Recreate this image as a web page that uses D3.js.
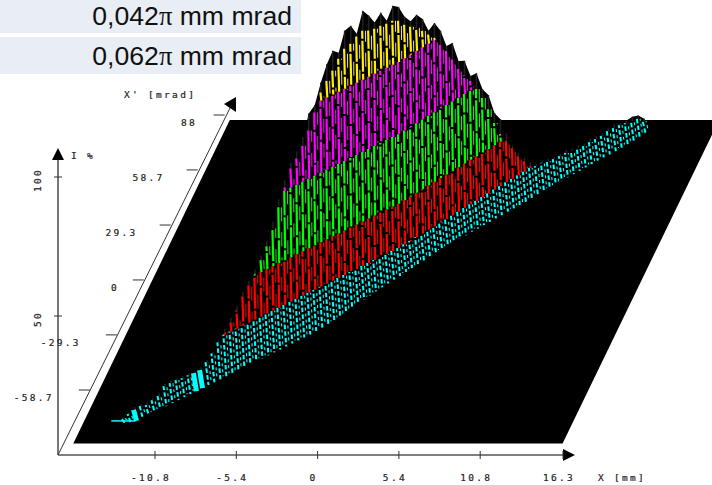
<!DOCTYPE html>
<html>
<head>
<meta charset="utf-8">
<script src="https://cdn.jsdelivr.net/npm/d3@7"></script>
<style>
  html, body { margin: 0; padding: 0; background: #fff; }
  .tick-label { font-family: "DejaVu Sans Mono", monospace; font-size: 9.5px; letter-spacing: 2.3px; fill: #222; stroke: #222; stroke-width: 0.2px; }
  .note { font-family: "Liberation Sans", Arial, sans-serif; font-size: 26.6px; fill: #111; }
  .note .pi { font-family: "Liberation Serif", serif; }
</style>
</head>
<body>
<div id="chart"></div>
<script>
// Axis ticks
const xTicks = [-10.8, -5.4, 0, 5.4, 10.8, 16.3];
const xpTicks = [-58.7, -29.3, 0, 29.3, 58.7, 88];
const iTicks = [50, 100];

// Emittance notes
const notes = ["0,042", "0,062"];

// Floor extent, mm and mrad
const floorX = [-16.6, 15.9];
const floorXp = [-87.2, 85.3];

// Intensity where the colour changes, %
const bandLimits = [15, 31, 56, 82];
const bandColors = ["#00ffff", "#ff0000", "#00ff00", "#ff00ff", "#ffee00"];

// One entry per scan line
const lineX = [-13.82, -13.52, -13.22, -12.91, -12.61, -12.31, -12.01, -11.71, -11.40, -11.10, -10.80, -10.50, -10.20, -9.89, -9.59, -9.29, -8.99, -8.69, -8.38, -8.08, -7.78, -7.48, -7.18, -6.87, -6.57, -6.27, -5.97, -5.67, -5.36, -5.06, -4.76, -4.46, -4.16, -3.85, -3.55, -3.25, -2.95, -2.65, -2.34, -2.04, -1.74, -1.44, -1.14, -0.83, -0.53, -0.23, 0.07, 0.35, 0.63, 0.91, 1.19, 1.47, 1.75, 2.03, 2.31, 2.59, 2.88, 3.16, 3.44, 3.72, 4.00, 4.28, 4.56, 4.84, 5.12, 5.40, 5.68, 5.96, 6.24, 6.51, 6.79, 7.06, 7.33, 7.60, 7.88, 8.15, 8.42, 8.70, 8.97, 9.24, 9.51, 9.79, 10.06, 10.33, 10.60, 10.88, 11.15, 11.42];
const lineXp = [-78.4, -76.8, -75.2, -73.6, -72.0, -70.5, -68.9, -67.3, -65.7, -64.1, -62.5, -60.9, -59.3, -57.7, -56.1, -54.6, -53.0, -51.4, -49.8, -48.2, -46.6, -45.0, -43.4, -41.8, -40.2, -38.6, -37.1, -35.5, -33.9, -32.3, -30.7, -29.1, -27.5, -25.9, -24.3, -22.7, -21.2, -19.6, -18.0, -16.4, -14.8, -13.2, -11.6, -10.0, -8.4, -6.8, -5.3, -3.3, -1.4, 0.6, 2.5, 4.5, 6.4, 8.4, 10.3, 12.2, 14.2, 16.1, 18.1, 20.0, 22.0, 23.9, 25.9, 27.8, 29.8, 31.7, 33.6, 35.6, 37.6, 39.7, 41.8, 43.8, 45.9, 48.0, 50.1, 52.2, 54.2, 56.3, 58.4, 60.5, 62.6, 64.6, 66.7, 68.8, 70.9, 73.0, 75.1, 77.1];
const lineLow = [1.5, 0.5, 0, 0, 0, 0, 0, 0, 0, 0, 0, 0, 0, 0, 0, 0, 0, 0, 0, 0, 0, 0, 0, 0, 0, 0, 0, 0, 0, 0, 0, 0, 0.2, 0.3, 0.5, 0.7, 1.1, 1.5, 1.9, 2.4, 2.9, 3.3, 3.7, 4.1, 4.4, 4.7, 5, 5.1, 5.2, 5.3, 5.4, 5.4, 5.4, 5.4, 5.4, 5.4, 5.3, 5.2, 5.2, 5, 4.9, 4.8, 4.7, 4.6, 4.5, 4.4, 4.3, 4.1, 4, 3.8, 3.7, 3.5, 3.4, 3.2, 3.1, 2.9, 2.7, 2.5, 2.3, 2.1, 1.9, 1.6, 1.4, 1.2, 1, 0.7, 0.6, 0.5];
const lineTop = [3, 3.6, 4, 4.3, 3.6, 4.3, 4.7, 7.2, 7.2, 7.2, 6.8, 6.8, 6.5, 6.5, 8.3, 10.4, 13.3, 15.5, 18.3, 21.6, 25.5, 28.4, 31.3, 35.3, 39.2, 44.6, 51.8, 57.2, 63, 65.5, 69, 73.4, 78.8, 84.9, 88, 90.6, 93.9, 96.4, 97.1, 98.6, 99.6, 98.6, 98.2, 98.2, 97.8, 97.8, 96.8, 94, 92, 90.3, 87.9, 85.2, 82.7, 78.9, 75.4, 71.2, 66.3, 62.8, 59.4, 55.2, 50.6, 45.3, 39, 33.7, 29.9, 26, 21.8, 18.7, 15.6, 14.2, 13.9, 13.2, 12.5, 12.2, 11.9, 11.2, 10.9, 10.2, 10.2, 9.9, 9.6, 10, 9.6, 9.3, 8.6, 8, 7.3, 5.1];
const lineTip = [3.5, 4, 5, 5, 4.5, 5, 6, 8, 8, 8, 7.5, 7.5, 7, 7.5, 9, 11, 14, 17, 20, 23, 27, 30, 33, 37, 41, 47, 54, 60, 65, 68, 72, 79.5, 81.4, 88.5, 94, 97.8, 96, 102.9, 103.6, 99.6, 106.8, 104, 100.4, 102.9, 98.9, 103.2, 101.8, 96.9, 94, 95, 92.2, 86.6, 88.1, 84, 77.2, 77, 69.2, 68, 61.2, 60.9, 53.8, 50.4, 42.6, 39.1, 32.7, 27, 23, 20, 17, 15, 15, 14, 13.5, 13, 13, 12, 12, 11, 11.5, 11, 10.5, 11, 11, 10, 9.5, 9.5, 8.5, 6];

// Thin tail in front of the first scan line
const tailX = [-14.8, -13.2];
const tailXp = -75.2;
// Scan lines that merge into solid blobs
const solidLines = [2, 12, 13];

const width = 712;
const height = 485;

const svg = d3.select("#chart").append("svg")
  .attr("width", width)
  .attr("height", height)
  .style("display", "block");

// Scales
const xScale = d3.scaleLinear().domain([-10.8, 16.3]).range([155, 563]);
const xpScale = d3.scaleLinear().domain([-58.7, 88]).range([390, 115]);
const iScale = d3.scaleLinear().domain([50, 100]).range([316, 177]);

const axisLeft = 58;
const axisBase = 455;
const axisSkew = 0.49;
const floorSkew = 0.484;

// Oblique projection of the mm / mrad / % space
const lean = xp => axisBase - xpScale(xp);
const px = (x, xp) => xScale(x) + floorSkew * lean(xp);
const py = (xp, i) => xpScale(xp) - (iScale(0) - iScale(i));

// Notes at the top
notes.forEach((n, i) => {
  const top = [0, 37][i];
  const h = [33, 37][i];
  svg.append("rect").attr("x", 0).attr("y", top).attr("width", 301).attr("height", h).attr("fill", "#e9edf4");
  const t = svg.append("text").attr("class", "note").attr("x", 292).attr("y", [25, 65][i]).attr("text-anchor", "end");
  t.append("tspan").text(n);
  t.append("tspan").attr("class", "pi").text("π");
  t.append("tspan").text(" mm mrad");
});

// Floor
const floorPts = [
  [floorX[0], floorXp[0]], [floorX[1], floorXp[0]],
  [floorX[1], floorXp[1]], [floorX[0], floorXp[1]]
];
svg.append("polygon")
  .attr("points", floorPts.map(d => [px(d[0], d[1]), py(d[1], 0)].join(",")).join(" "))
  .attr("fill", "#000");

// Axes
const axes = svg.append("g");
const axisColor = "#555";
axes.append("line").attr("x1", axisLeft).attr("y1", axisBase).attr("x2", xScale(16.3)).attr("y2", axisBase)
  .attr("stroke", axisColor).attr("stroke-width", 1.6);
axes.append("line").attr("x1", axisLeft).attr("y1", axisBase).attr("x2", axisLeft).attr("y2", 158)
  .attr("stroke", axisColor).attr("stroke-width", 1.6);
axes.append("line").attr("x1", axisLeft).attr("y1", axisBase).attr("x2", 233).attr("y2", 102)
  .attr("stroke", "#333").attr("stroke-width", 1);

axes.append("polygon").attr("points", "563,449 575,455 563,461").attr("fill", "#000");
axes.append("polygon").attr("points", "58,148 52,160 64,160").attr("fill", "#000");
axes.append("polygon").attr("points", "236,97 224,104 236,112").attr("fill", "#000");

xTicks.forEach(d => {
  axes.append("line").attr("x1", xScale(d)).attr("x2", xScale(d)).attr("y1", 451).attr("y2", 459)
    .attr("stroke", "#333");
  axes.append("text").attr("class", "tick-label").attr("x", xScale(d) - 4).attr("y", 481)
    .attr("text-anchor", "middle").text(d);
});

xpTicks.forEach(d => {
  const y = xpScale(d);
  const right = axisLeft + axisSkew * (axisBase - y);
  const label = String(d);
  axes.append("line").attr("x1", right - 11).attr("x2", right).attr("y1", y).attr("y2", y)
    .attr("stroke", "#333");
  axes.append("text").attr("class", "tick-label")
    .attr("x", right - 22 - 2.8 * label.length).attr("y", y + 11)
    .attr("text-anchor", "end").text(label);
});

iTicks.forEach(d => {
  const y = iScale(d);
  axes.append("line").attr("x1", axisLeft - 4).attr("x2", axisLeft + 4).attr("y1", y).attr("y2", y)
    .attr("stroke", "#333");
  axes.append("text").attr("class", "tick-label")
    .attr("transform", `translate(41, ${y + 3}) rotate(-90)`)
    .attr("text-anchor", "middle").text(d);
});

axes.append("text").attr("class", "tick-label").attr("x", 71).attr("y", 159).text("I %");
axes.append("text").attr("class", "tick-label").attr("x", 124).attr("y", 98).text("X' [mrad]");
axes.append("text").attr("class", "tick-label").attr("x", 598).attr("y", 481).text("X [mm]");

// Surface
const surface = svg.append("g");

const silhouette = d3.area()
  .x((d, i) => px(d, lineXp[i]))
  .y0((d, i) => py(lineXp[i], lineLow[i]))
  .y1((d, i) => py(lineXp[i], lineTip[i]));

surface.append("path").attr("d", silhouette(lineX)).attr("fill", "#000");

// Spikes above the coloured part
surface.selectAll("line.tip")
  .data(lineX)
  .enter()
  .append("line")
    .attr("class", "tip")
    .attr("x1", (d, i) => px(d, lineXp[i]))
    .attr("x2", (d, i) => px(d, lineXp[i]))
    .attr("y1", (d, i) => py(lineXp[i], lineTop[i]))
    .attr("y2", (d, i) => py(lineXp[i], lineTip[i]))
    .attr("stroke", "#222")
    .attr("stroke-width", 1.5);

// Cut every scan line at the colour limits
const limits = [-10].concat(bandLimits, [200]);
const segments = lineX.flatMap((x, k) => bandColors.map((color, b) => ({
  k, b, color,
  x: px(x, lineXp[k]),
  y0: py(lineXp[k], Math.max(lineLow[k], limits[b])),
  y1: py(lineXp[k], Math.min(lineTop[k], limits[b + 1])),
  keep: Math.min(lineTop[k], limits[b + 1]) > Math.max(lineLow[k], limits[b])
}))).filter(d => d.keep);

// Offset strokes between the scan lines give the woven look
surface.selectAll("line.weave")
  .data(segments.filter(d => !solidLines.includes(d.k)))
  .enter()
  .append("line")
    .attr("class", "weave")
    .attr("x1", d => d.x + (d.b === 0 ? 4.2 : 3.2))
    .attr("x2", d => d.x + (d.b === 0 ? 1.8 : 2.8))
    .attr("y1", d => d.y0 - 3)
    .attr("y2", d => d.y1)
    .attr("stroke", d => d.color)
    .attr("stroke-width", d => d.b === 0 ? 1.1 : 1)
    .attr("stroke-dasharray", d => d.b === 0 ? "3 3" : "14 11")
    .attr("stroke-dashoffset", d => d.k * 11);

surface.selectAll("line.band")
  .data(segments)
  .enter()
  .append("line")
    .attr("class", "band")
    .attr("x1", d => d.x + (d.b === 0 ? 1.5 : 0.5))
    .attr("x2", d => d.x - (d.b === 0 ? 1.5 : 0.5))
    .attr("y1", d => d.y0)
    .attr("y2", d => d.y1)
    .attr("stroke", d => d.color)
    .attr("stroke-width", d => solidLines.includes(d.k) ? 5 : (d.b === 0 ? 2 : 2.2))
    .attr("stroke-dasharray", d => solidLines.includes(d.k) ? null : (d.b === 0 ? "4.5 2.2" : "31 2"))
    .attr("stroke-dashoffset", d => d.k * 13);

surface.append("line")
  .attr("x1", px(tailX[0], tailXp)).attr("x2", px(tailX[1], tailXp))
  .attr("y1", py(tailXp, 0)).attr("y2", py(tailXp, 0))
  .attr("stroke", "#00ffff").attr("stroke-width", 1.5);
</script>
</body>
</html>
